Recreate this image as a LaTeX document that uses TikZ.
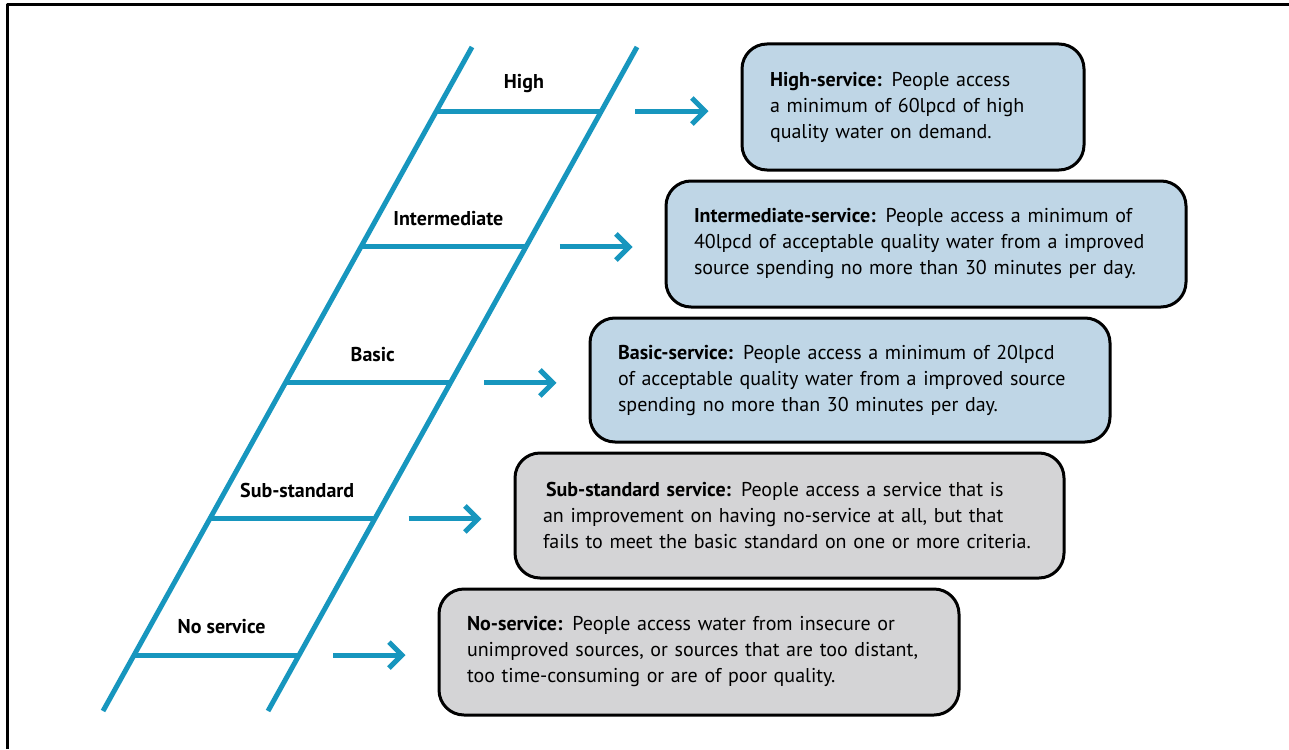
\documentclass[tikz,border=0pt]{standalone}
\usepackage{fontspec}
\setmainfont{PT Sans}
\usetikzlibrary{arrows.meta,calc}
\definecolor{ladder}{RGB}{23,150,190}
\definecolor{bluebox}{RGB}{191,214,230}
\definecolor{greybox}{RGB}{212,212,214}
\begin{document}
\begin{tikzpicture}[x=1pt,y=-1pt,line join=round,font=\fontsize{20}{26}\selectfont,
  rail/.style={ladder,line width=5pt},
  desc/.style={draw=black,line width=3pt,rounded corners=25pt,align=left,inner xsep=28pt,inner ysep=0pt},
  lbl/.style={font=\fontsize{20}{22}\selectfont\bfseries},
  >={Straight Barb[length=13pt,width=26pt]}]
\useasboundingbox (0,0) rectangle (1289,749);
\draw[line width=3pt] (7,749) -- (7,5) -- (1289,5);
% ladder rails
\coordinate (lb) at (103,711); \coordinate (lt) at (472,47);
\coordinate (rb) at (268,711); \coordinate (rt) at (637,47);
\draw[rail] (lb) -- (lt) (rb) -- (rt);
% service boxes
\node[desc,fill=bluebox,text width=286pt,minimum height=126pt] (high) at (913,107)
  {\textbf{High-service:} People access\\a minimum of 60lpcd of high\\quality water on demand.};
\node[desc,fill=bluebox,text width=464pt,minimum height=126pt] (inter) at (926,244)
  {\textbf{Intermediate-service:} People access a minimum of\\40lpcd of acceptable quality water from a improved\\source spending no more than 30 minutes per day.};
\node[desc,fill=bluebox,text width=464pt,minimum height=124pt] (basic) at (850,380)
  {\textbf{Basic-service:} People access a minimum of 20lpcd\\of acceptable quality water from a improved source\\spending no more than 30 minutes per day.};
\node[desc,fill=greybox,text width=493pt,minimum height=125pt] (sub) at (789.5,515.5)
  {\hspace*{3pt}\textbf{Sub-standard service:} People access a service that is\\an improvement on having no-service at all, but that\\fails to meet the basic standard on one or more criteria.};
\node[desc,fill=greybox,text width=464pt,minimum height=126pt] (none) at (699,652)
  {\textbf{No-service:} People access water from insecure or\\unimproved sources, or sources that are too distant,\\too time-consuming or are of poor quality.};
% rungs, labels and arrows
\foreach \t/\txt/\bx in {0.9036/High/high,0.6988/Intermediate/inter,0.494/Basic/basic,0.2892/Sub-standard/sub,0.0843/No service/none}{
  \coordinate (a\bx) at ($(lb)!\t!(lt)$);
  \coordinate (b\bx) at ($(rb)!\t!(rt)$);
  \draw[rail] (a\bx) -- (b\bx);
  \node[lbl] (l\bx) at ($(a\bx)!0.5!(b\bx)+(5,-28)$) {\txt};
  \coordinate (s\bx) at ($(b\bx)+(34,0)$);
  \draw[rail,->,shorten >=32pt] (s\bx) -- (s\bx -| \bx.west);
}
\end{tikzpicture}
\end{document}
